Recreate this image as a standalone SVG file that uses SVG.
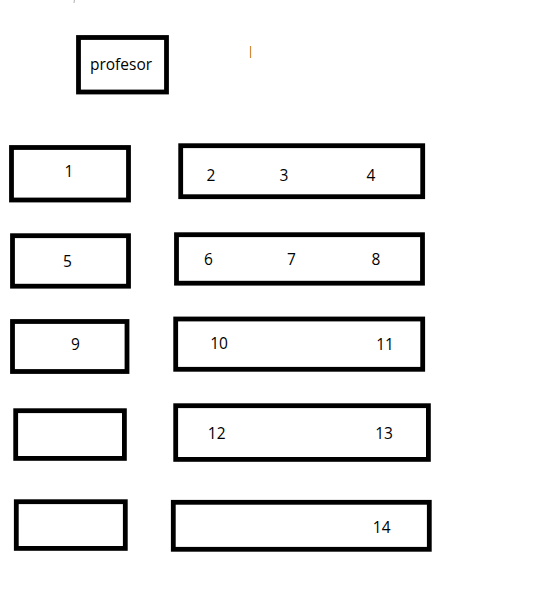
<svg xmlns="http://www.w3.org/2000/svg" width="560" height="603" viewBox="0 0 560 603">
<style>
.box{fill:#fff;stroke:#000;stroke-width:4.8}
.t{font-family:"Open Sans","Liberation Sans",sans-serif;font-size:15.5px;fill:#000;text-anchor:middle}
</style>
<rect width="560" height="603" fill="#fff"/>
<g id="marks">
<line x1="74.5" y1="0" x2="74" y2="3" stroke="#bbb" stroke-width="1.2"/>
<line x1="250.5" y1="46" x2="250.5" y2="58" stroke="#d08a3a" stroke-width="1.2"/>
</g>
<g id="node-profesor"><rect class="box" x="78.5" y="37.5" width="88" height="54.5"/><text class="t" x="121" y="70">profesor</text></g>
<g id="node-1"><rect class="box" x="11.5" y="147.5" width="117" height="52.5"/><text class="t" x="69" y="177">1</text></g>
<g id="node-2-4"><rect class="box" x="180.7" y="145.7" width="242" height="51"/><text class="t" x="211" y="181">2</text><text class="t" x="284" y="181">3</text><text class="t" x="371" y="181">4</text></g>
<g id="node-5"><rect class="box" x="12.5" y="235.7" width="116" height="50.5"/><text class="t" x="67.5" y="267">5</text></g>
<g id="node-6-8"><rect class="box" x="176.5" y="234.7" width="246" height="48.5"/><text class="t" x="208.5" y="265">6</text><text class="t" x="291.5" y="265">7</text><text class="t" x="376" y="265">8</text></g>
<g id="node-9"><rect class="box" x="12.5" y="321.5" width="114.5" height="50"/><text class="t" x="75.5" y="350">9</text></g>
<g id="node-10-11"><rect class="box" x="175.7" y="319" width="247" height="50.3"/><text class="t" x="219" y="349">10</text><text class="t" x="385" y="350">11</text></g>
<g id="node-empty-1"><rect class="box" x="15.7" y="410.7" width="108.7" height="47.7"/></g>
<g id="node-12-13"><rect class="box" x="175.7" y="405.7" width="252.7" height="53.7"/><text class="t" x="216.7" y="438.5">12</text><text class="t" x="384" y="438.5">13</text></g>
<g id="node-empty-2"><rect class="box" x="16.3" y="501.7" width="109" height="46.7"/></g>
<g id="node-14"><rect class="box" x="173.3" y="502.3" width="256" height="47"/><text class="t" x="381.7" y="533">14</text></g>
<g id="connectors"/>
</svg>
